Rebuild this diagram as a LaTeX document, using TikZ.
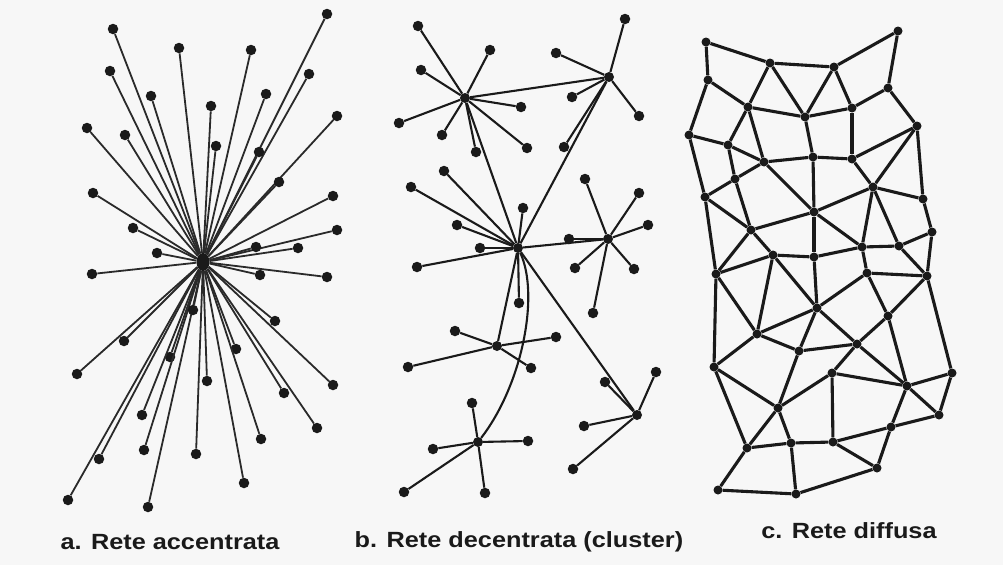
\documentclass[tikz,border=0pt]{standalone}
\usepackage{fontspec}
\setmainfont{Liberation Sans}
\usetikzlibrary{positioning,shapes.geometric}
\definecolor{netInk}{HTML}{1A1A1A}
\definecolor{netSpoke}{HTML}{2A2A2A}
\definecolor{netPaper}{HTML}{F7F7F7}
\tikzset{
  dot/.style={circle,fill=netInk,inner sep=0pt,minimum size=10.5pt},
  hub/.style={dot,minimum size=10pt},
  bighub/.style={ellipse,fill=netInk,inner sep=0pt,minimum width=13pt,minimum height=18pt},
  knot/.style={dot,minimum size=9pt},
  spoke/.style={draw=netSpoke,line width=1.8pt},
  link/.style={draw=netInk,line width=2.1pt},
  mesh/.style={draw=netInk,line width=3.1pt},
  lbltxt/.style={font=\fontsize{22}{24}\selectfont\bfseries,text=netInk,anchor=base,inner sep=0pt},
}
\newcommand{\wide}[1]{\scalebox{1.15}[1]{#1}}

\begin{document}
\begin{tikzpicture}[x=1pt,y=-1pt]
  \fill[netPaper] (0,0) rectangle (1003,565);
  \useasboundingbox (0,0) rectangle (1003,565);

  % a -- one centre, every station hangs on it
  \node[bighub] (ahub) at (203,262) {};
  \foreach \p [count=\i] in {(113,29),(179,48),(251,50),(327,14),(110,71),(309,74),
      (151,96),(211,106),(266,94),(337,116),(87,128),(125,135),(216,146),(259,152),
      (279,182),(93,193),(333,196),(133,228),(337,230),(157,253),(256,247),(298,248),
      (92,274),(260,275),(327,277),(275,321),(124,341),(77,374),(170,357),(236,349),
      (207,381),(333,385),(284,393),(142,415),(317,428),(261,439),(144,450),(99,459),
      (196,454),(244,483),(68,500),(148,507),(193,310)}{
    \node[dot] (a\i) at \p {};
    \draw[spoke] (ahub) -- (a\i);
  }
  \node[lbltxt] (acap) at (170,549) {\wide{a. Rete accentrata}};

  % b -- a few local centres tied together
  \node[hub] (bA) at (465,98) {};
  \node[hub] (bB) at (609,77) {};
  \node[hub] (bC) at (518,248) {};
  \node[hub] (bD) at (608,239) {};
  \node[hub] (bE) at (497,346) {};
  \node[hub] (bF) at (478,442) {};
  \node[hub] (bG) at (637,415) {};
  \draw[link] (bA) -- (bB);
  \draw[link] (bA) -- (bC);
  \draw[link] (bB) -- (bC);
  \draw[link] (bC) -- (bD);
  \draw[link] (bC) -- (bE);
  \draw[link] (bC) -- (bG);
  \draw[link] (bF) .. controls (522,385) and (540,295) .. (bC);
  \foreach \p [count=\i] in {(418,26),(490,50),(421,70),(399,123),(442,135),(476,152),(521,107),(527,148)}{
    \node[dot] (bA\i) at \p {};
    \draw[link] (bA) -- (bA\i);
  }
  \foreach \p [count=\i] in {(625,19),(556,53),(572,97),(639,116),(564,147)}{
    \node[dot] (bB\i) at \p {};
    \draw[link] (bB) -- (bB\i);
  }
  \foreach \p [count=\i] in {(444,171),(411,187),(523,208),(457,225),(480,248),(417,267),(519,303)}{
    \node[dot] (bC\i) at \p {};
    \draw[link] (bC) -- (bC\i);
  }
  \foreach \p [count=\i] in {(585,179),(639,193),(648,225),(569,239),(575,268),(634,269),(593,313)}{
    \node[dot] (bD\i) at \p {};
    \draw[link] (bD) -- (bD\i);
  }
  \foreach \p [count=\i] in {(455,331),(556,337),(408,367),(531,368)}{
    \node[dot] (bE\i) at \p {};
    \draw[link] (bE) -- (bE\i);
  }
  \foreach \p [count=\i] in {(472,403),(433,449),(528,441),(404,492),(485,493)}{
    \node[dot] (bF\i) at \p {};
    \draw[link] (bF) -- (bF\i);
  }
  \foreach \p [count=\i] in {(605,382),(656,372),(584,426),(573,469)}{
    \node[dot] (bG\i) at \p {};
    \draw[link] (bG) -- (bG\i);
  }
  \node[lbltxt] (bcap) at (519,547) {\wide{b. Rete decentrata (cluster)}};

  % c -- the mesh
  \foreach \p [count=\i] in {(706,42),(770,63),(834,67),(898,31),(708,80),(748,107),
      (805,117),(852,108),(888,88),(917,126),(689,135),(728,145),(764,162),(813,157),
      (852,159),(735,179),(873,187),(705,197),(923,199),(814,212),(751,230),(932,232),
      (862,247),(899,246),(773,255),(814,257),(716,274),(867,273),(927,276),(817,308),
      (888,316),(757,334),(799,351),(857,344),(714,367),(832,373),(952,373),(907,386),
      (778,408),(939,415),(891,427),(747,448),(791,443),(833,442),(877,468),(718,490),
      (796,494)}{
    \node[knot] (c\i) at \p {};
  }
  \foreach \u/\v in {1/2,1/5,2/3,3/4,4/9,5/6,5/11,2/6,2/7,3/7,3/8,6/7,7/8,8/9,9/10,
      11/12,6/12,6/13,12/13,12/16,11/18,7/14,13/14,14/15,8/15,15/10,10/17,10/19,15/17,
      13/20,14/20,16/18,13/16,16/21,18/21,20/21,20/17,17/19,19/22,17/23,17/24,20/23,
      20/26,21/25,21/27,18/27,25/26,26/23,23/24,24/22,23/28,24/29,22/29,25/27,
      25/32,25/30,26/30,28/29,28/30,28/31,29/31,29/37,27/35,27/32,30/32,30/33,30/34,
      32/35,32/33,33/34,34/31,34/36,34/38,31/38,36/38,38/37,38/40,37/40,38/41,40/41,
      41/45,41/44,44/45,36/44,33/39,36/39,35/39,35/42,39/42,39/43,42/43,43/44,42/46,
      43/47,46/47,47/45}{
    \draw[mesh] (c\u) -- (c\v);
  }
  \node[lbltxt] (ccap) at (849,538) {\wide{c. Rete diffusa}};
\end{tikzpicture}
\end{document}
